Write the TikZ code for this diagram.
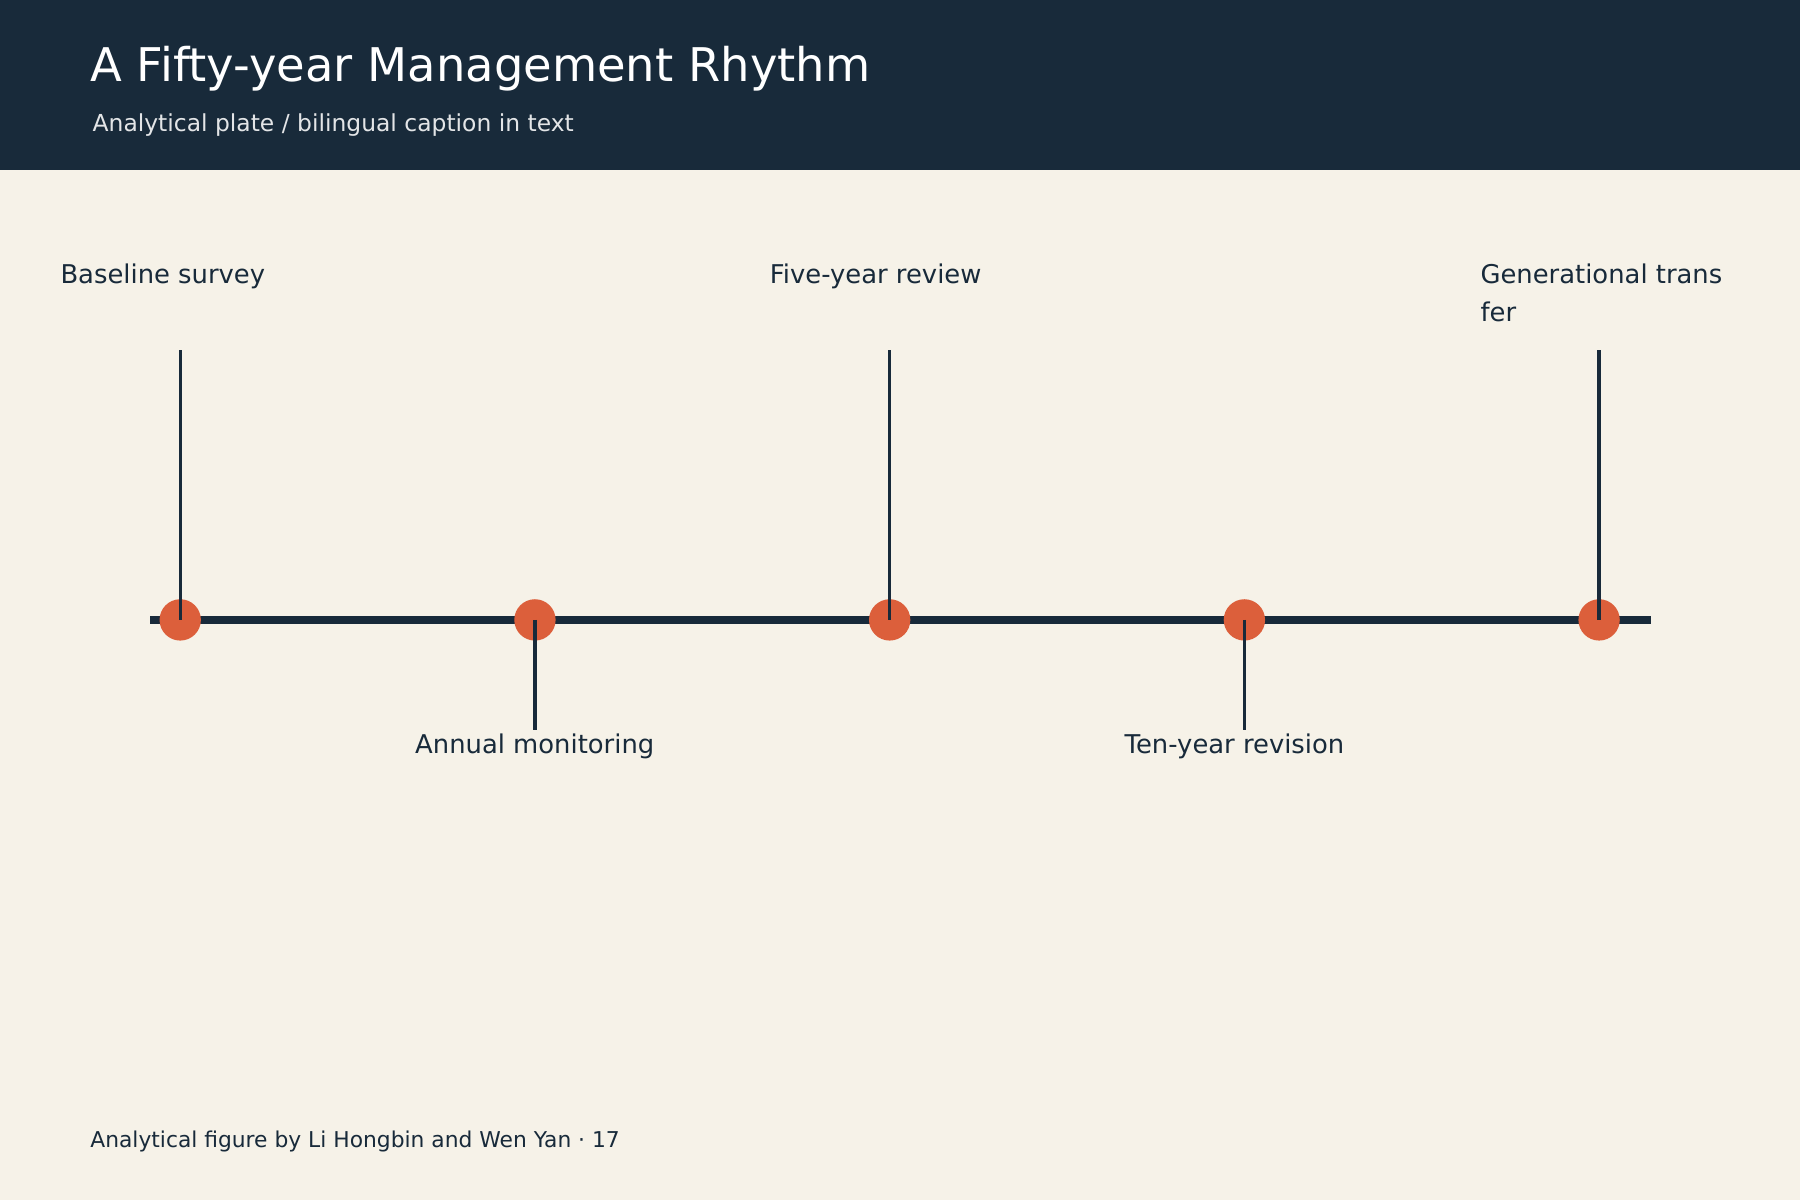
\documentclass[tikz,border=0pt]{standalone}
\usepackage{fontspec}
\setmainfont{DejaVu Sans}
\definecolor{inkblue}{HTML}{182A3A}
\definecolor{paper}{HTML}{F6F2E8}
\definecolor{dotred}{HTML}{DC5F3B}
\begin{document}
\begin{tikzpicture}[x=0.01cm,y=-0.01cm,
    dot/.style={circle,fill=dotred,minimum size=0.36cm,inner sep=0pt},
    stem/.style={inkblue,line width=0.8pt},
    lbl/.style={anchor=west,inner sep=0pt,text=inkblue,font=\fontsize{6.4}{9.4}\selectfont,align=left}]
            \fill[paper] (0,0) rectangle (1568,1045);
            \fill[inkblue] (0,0) rectangle (1568,148);
            \node[anchor=west,inner sep=0pt,text=white,font=\fontsize{11.5}{14}\selectfont] (title) at (78,60) {A Fifty-year Management Rhythm};
            \node[anchor=west,inner sep=0pt,text=white!88!inkblue,font=\fontsize{5.8}{7}\selectfont] (sub) at (80,109) {Analytical plate / bilingual caption in text};

            \draw[inkblue,line width=2pt] (131,540) -- (1438,540);

            \node[dot] (d1) at (157,540) {};
            \node[dot] (d2) at (466,540) {};
            \node[dot] (d3) at (775,540) {};
            \node[dot] (d4) at (1084,540) {};
            \node[dot] (d5) at (1393,540) {};

            \node[lbl] (l1) at (52,241) {Baseline survey};
            \node[lbl] (l3) at (670,241) {Five-year review};
            \node[lbl,anchor=north west] (l5) at (1289,229) {Generational trans\\fer};
            \node[lbl] (l2) at (361,650) {Annual monitoring};
            \node[lbl] (l4) at (979,650) {Ten-year revision};

            \coordinate (t1) at (157,305);
            \coordinate (t3) at (775,305);
            \coordinate (t5) at (1393,305);
            \coordinate (b2) at (466,636);
            \coordinate (b4) at (1084,636);
            \draw[stem] (t1) -- (d1.center);
            \draw[stem] (t3) -- (d3.center);
            \draw[stem] (t5) -- (d5.center);
            \draw[stem] (d2.center) -- (b2);
            \draw[stem] (d4.center) -- (b4);

            \node[anchor=west,inner sep=0pt,text=inkblue,font=\fontsize{5.4}{7}\selectfont] (foot) at (78,994) {Analytical figure by Li Hongbin and Wen Yan · 17};
\end{tikzpicture}
\end{document}
